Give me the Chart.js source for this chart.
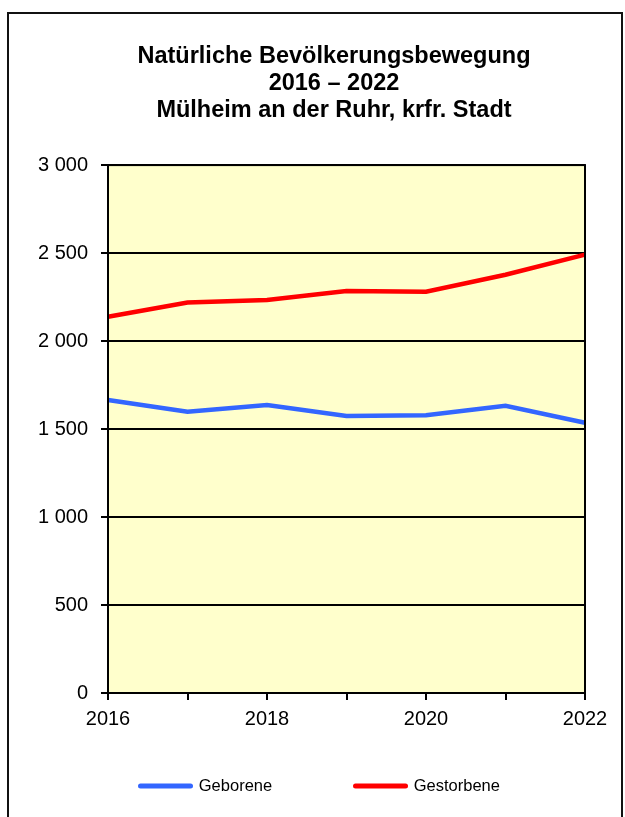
<!DOCTYPE html>
<html>
<head>
<meta charset="utf-8">
<script src="https://cdn.jsdelivr.net/npm/chart.js@4"></script>
<style>
  body { margin: 0; background: #fff; }
  canvas { display: block; }
</style>
</head>
<body>
<canvas id="bevChart" width="625" height="817"></canvas>
<script>
// Natürliche Bevölkerungsbewegung, Mülheim an der Ruhr
const jahre = ['2016', '2017', '2018', '2019', '2020', '2021', '2022'];
const geborene = [1665, 1598, 1636, 1574, 1578, 1632, 1536];
const gestorbene = [2138, 2219, 2233, 2284, 2280, 2377, 2491];
const titel = ['Natürliche Bevölkerungsbewegung', '2016 – 2022', 'Mülheim an der Ruhr, krfr. Stadt'];

// pad legend text so the items sit where the original has them
const legendPad = ['\u00a0'.repeat(16), '\u00a0'.repeat(6)];

Chart.defaults.font.family = '"Liberation Sans", Arial, sans-serif';
Chart.defaults.color = '#000';

function formatNum(v){
    return String(v).replace(/\B(?=(\d{3})+(?!\d))/g, ' ');
}

const framePlugin = {
    id: 'frame',
    beforeDraw(chart){
        const ctx = chart.ctx;
        const a = chart.chartArea;
        ctx.save();
        ctx.strokeStyle = '#111';
        ctx.lineWidth = 2;
        ctx.strokeRect(8, 13, 614, 900);
        ctx.fillStyle = '#ffffcc';
        ctx.fillRect(a.left, a.top, a.right - a.left, a.bottom - a.top);
        ctx.restore();
    },
    afterDraw(chart){
        const ctx = chart.ctx;
        const a = chart.chartArea;
        ctx.save();
        ctx.strokeStyle = '#000';
        ctx.lineWidth = 2;
        ctx.strokeRect(a.left, a.top, a.right - a.left, a.bottom - a.top);
        ctx.restore();
    }
};

new Chart(document.getElementById('bevChart'), {
    type: 'line',
    data: {
        labels: jahre,
        datasets: [{
            label: 'Geborene',
            data: geborene,
            borderColor: '#3366ff',
            backgroundColor: '#3366ff',
            borderWidth: 4.5,
            pointRadius: 0,
            tension: 0
        }, {
            label: 'Gestorbene',
            data: gestorbene,
            borderColor: '#ff0000',
            backgroundColor: '#ff0000',
            borderWidth: 4.5,
            pointRadius: 0,
            tension: 0
        }]
    },
    options: {
        responsive: false,
        animation: false,
        // title and legend are centred a bit right of the canvas middle
        layout: { padding: { left: 37, right: -6, top: 0, bottom: 12.75 } },
        plugins: {
            title: {
                display: true,
                text: titel,
                color: '#000',
                font: { size: 23.5, weight: 'bold', lineHeight: 1.136 },
                padding: { top: 43.5, bottom: 41.5 }
            },
            legend: {
                position: 'bottom',
                labels: {
                    usePointStyle: true,
                    pointStyleWidth: 50,
                    padding: 10,
                    font: { size: 16.5 },
                    color: '#000',
                    generateLabels(chart){
                        const items = Chart.defaults.plugins.legend.labels.generateLabels(chart);
                        items.forEach((it, i) => {
                            it.text = it.text + legendPad[i];
                            it.pointStyle = 'line';
                            it.lineWidth = 5;
                            it.lineCap = 'round';
                        });
                        return items;
                    }
                }
            },
            tooltip: { enabled: false }
        },
        scales: {
            x: {
                offset: false,
                grid: {
                    drawOnChartArea: false,
                    drawTicks: true,
                    tickLength: 7,
                    color: '#000',
                    lineWidth: 2
                },
                border: { color: '#000', width: 2 },
                ticks: {
                    autoSkip: false,
                    maxRotation: 0,
                    padding: 7,
                    font: { size: 20 },
                    callback(val, i){
                        return i % 2 === 0 ? this.getLabelForValue(val) : '';
                    }
                },
                afterFit(scale){ scale.height = 74.75; }
            },
            y: {
                min: 0,
                max: 3000,
                ticks: {
                    stepSize: 500,
                    padding: 13,
                    font: { size: 20 },
                    callback: v => formatNum(v)
                },
                grid: {
                    color: '#000',
                    lineWidth: 2,
                    tickLength: 7
                },
                border: { color: '#000', width: 2 },
                afterFit(scale){ scale.width = 71; }
            },
            // empty right margin so the plot ends at the same place
            rand: {
                type: 'linear',
                position: 'right',
                grid: { display: false },
                border: { display: false },
                ticks: { display: false },
                afterFit(scale){ scale.width = 46; }
            }
        }
    },
    plugins: [framePlugin]
});
</script>
</body>
</html>
